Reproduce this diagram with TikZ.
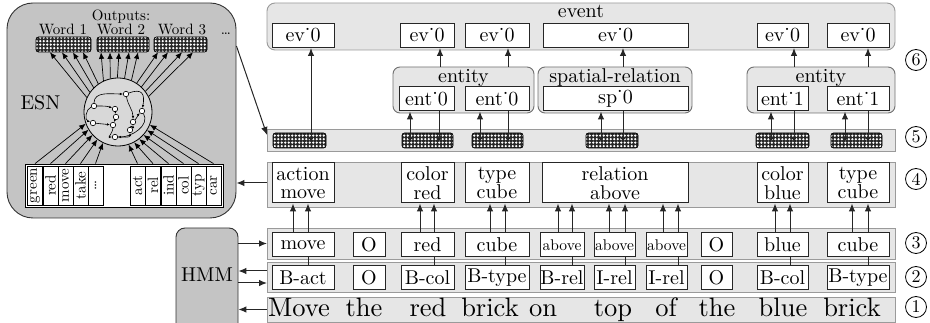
\documentclass[tikz,border=0pt]{standalone}
\usepackage{fontspec}
\setmainfont{lmroman10-regular.otf}
\usetikzlibrary{arrows.meta,patterns}
\pgfdeclarepatternformonly{wdots}{\pgfqpoint{-1pt}{-1pt}}{\pgfqpoint{4.6pt}{4.6pt}}{\pgfqpoint{3.5pt}{3.5pt}}{%
  \pgfpathcircle{\pgfqpoint{1.75pt}{1.75pt}}{1.25pt}\pgfusepath{fill}}
\definecolor{bargray}{HTML}{E6E6E6}
\definecolor{bordgray}{HTML}{9A9A9A}
\definecolor{grpgray}{HTML}{707070}
\definecolor{esngray}{HTML}{C4C4C4}
\definecolor{resgray}{HTML}{D8D8D8}
\newcommand\fsz[1]{\fontsize{#1}{#1}\selectfont}
\begin{document}
\begin{tikzpicture}[x=1pt,y=-1pt,
  bar/.style={draw=bordgray,fill=bargray,line width=0.9pt,inner sep=0pt,outer sep=0pt},
  rbar/.style={bar,rounded corners=8pt},
  grp/.style={draw=grpgray,fill=bargray,line width=0.9pt,rounded corners=7pt,inner sep=0pt},
  wbox/.style={draw=black!85,fill=white,line width=1pt,inner sep=0pt,minimum height=24pt,font=\fsz{20}},
  tbox/.style={wbox,minimum height=40pt,align=center,font=\fontsize{20}{18.5}\selectfont},
  resv/.style={draw=black,line width=0.7pt,rounded corners=2.5pt,preaction={fill=black!85},pattern=wdots,pattern color=white,minimum height=15pt,inner sep=0pt},
  arr/.style={-{Latex[length=8pt,width=6.5pt]},line width=1pt,draw=black!85},
  darr/.style={{Circle[length=4pt]}-{Latex[length=8pt,width=6.5pt]},line width=1pt,draw=black!85},
  dln/.style={{Circle[length=4pt]}-,line width=1pt,draw=black!85},
  ln/.style={line width=1pt,draw=black!85},
  earr/.style={-{Latex[length=6.5pt,width=5.5pt]},line width=0.7pt,draw=black},
  narr/.style={-{Latex[length=3pt,width=2.5pt]},line width=0.6pt,draw=black},
  nn/.style={circle,draw=black,fill=white,line width=0.6pt,inner sep=0pt,minimum size=5.5pt},
  cell/.style={draw=black,fill=white,line width=0.7pt,inner sep=0pt,minimum width=39pt,minimum height=15.3pt,rotate=90,font=\fsz{15}},
  num/.style={circle,draw=black,line width=0.8pt,inner sep=0pt,minimum size=21pt,font=\fsz{18}},
  word/.style={anchor=base,font=\fsz{26.5},inner sep=0pt},
  lbl/.style={font=\fsz{20},inner sep=0pt,anchor=base},
  small/.style={font=\fsz{15},inner sep=0pt,anchor=base}
]
\useasboundingbox (0,0) rectangle (930,323);
\clip (0,0) rectangle (930,323);

% ================= ESN panel =================
\node[draw=black!80,fill=esngray,line width=0.9pt,rounded corners=26pt,minimum width=229pt,minimum height=215pt,inner sep=0pt] (esn) at (121.5,110.5) {};
\node[small] (outs) at (121,21) {Outputs:};
\node[small] (w1) at (63,35) {Word 1};
\node[small] (w2) at (121,35) {Word 2};
\node[small] (w3) at (182,35) {Word 3};
\node[small] (wd) at (226,35) {\dots};
\node[lbl] (esnl) at (40.5,110) {ESN};
\node[resv,minimum width=55pt] (o1) at (63.5,44.5) {};
\node[resv,minimum width=52pt] (o2) at (123,44.5) {};
\node[resv,minimum width=53pt] (o3) at (180.5,44.5) {};
\node[circle,draw=black,fill=resgray,line width=0.8pt,minimum size=68pt,inner sep=0pt] (res) at (118,112) {};

% output arrows
\draw[earr] (res.155) -- (o1.south -| 50,0);
\draw[earr] (res.145) -- (o1.south -| 62,0);
\draw[earr] (res.135) -- (o1.south -| 73,0);
\draw[earr] (res.125) -- (o1.south -| 83,0);
\draw[earr] (res.115) -- (o2.south -| 101,0);
\draw[earr] (res.103) -- (o2.south -| 110,0);
\draw[earr] (res.91) -- (o2.south -| 119,0);
\draw[earr] (res.79) -- (o2.south -| 129,0);
\draw[earr] (res.67) -- (o2.south -| 138,0);
\draw[earr] (res.57) -- (o3.south -| 158,0);
\draw[earr] (res.47) -- (o3.south -| 168,0);
\draw[earr] (res.37) -- (o3.south -| 182,0);
\draw[earr] (res.27) -- (o3.south -| 193,0);

% inner network
\node[nn] (n1) at (126,94) {};
\node[nn] (n2) at (94,106) {};
\node[nn] (n3) at (115,109) {};
\node[nn] (n4) at (142,111) {};
\node[nn] (n10) at (116,117) {};
\node[nn] (n5) at (93,123) {};
\node[nn] (n6) at (113,125) {};
\node[nn] (n7) at (133,122) {};
\node[nn] (n8) at (130,130) {};
\node[nn] (n9) at (115,137) {};
\draw[narr] (n2) to[out=90,in=180] (n1);
\draw[narr] (n1) to[out=20,in=80,looseness=1.8] (n4);
\draw[narr] (n2) to[out=0,in=160] (n3);
\draw[narr] (n2) to[out=200,in=160] (n5);
\draw[narr] (n5) -- (n6);
\draw[narr] (n3) -- (n10);
\draw[narr] (n10) -- (n6);
\draw[narr] (n6) to[out=-90,in=180] (n9);
\draw[narr] (n9) to[out=0,in=-90] (n8);
\draw[narr] (n8) to[out=90,in=-90] (n7);
\draw[narr] (n7) to[out=45,in=-135] (n4);
\draw[narr] (n4) to[out=-60,in=0] (n9);
\draw[narr] (n1) to[out=-80,in=90] (n7);

% input vector
\node[draw=black,fill=white,line width=0.8pt,minimum width=198pt,minimum height=43pt,inner sep=0pt] (inp) at (124,185.5) {};
\node[cell] (cg) at (35,185.5) {green};
\node[cell] (cr) at (50.5,185.5) {red};
\node[cell] (cm) at (65.5,185.5) {move};
\node[cell] (ct) at (80.5,185.5) {take};
\node[cell] (cd) at (95.5,185.5) {\dots};
\node[cell] (ca) at (137.5,185.5) {act};
\node[cell] (crl) at (153,185.5) {rel};
\node[cell] (ci) at (168.5,185.5) {ind};
\node[cell] (cc) at (183.5,185.5) {col};
\node[cell] (cy) at (198.5,185.5) {typ};
\node[cell] (ccar) at (213.5,185.5) {car};
\draw[earr] (cg.center |- inp.north) -- (res.200);
\draw[earr] (cr.center |- inp.north) -- (res.211);
\draw[earr] (cm.center |- inp.north) -- (res.222);
\draw[earr] (ct.center |- inp.north) -- (res.233);
\draw[earr] (cd.center |- inp.north) -- (res.244);
\draw[earr] (ca.center |- inp.north) -- (res.288);
\draw[earr] (crl.center |- inp.north) -- (res.298);
\draw[earr] (ci.center |- inp.north) -- (res.308);
\draw[earr] (cc.center |- inp.north) -- (res.318);
\draw[earr] (cy.center |- inp.north) -- (res.328);
\draw[earr] (ccar.center |- inp.north) -- (res.338);

% ================= HMM =================
\node[draw=black!80,fill=esngray,line width=0.9pt,rounded corners=9pt,minimum width=62pt,minimum height=112pt,inner sep=0pt] (hmm) at (207,284) {};
\node[lbl] (hmml) at (207,282) {HMM};

% ================= layers =================
\node[rbar,minimum width=628pt,minimum height=47pt] (L6) at (581,26.5) {};
\node[lbl] (evl) at (581,18) {event};
\node[bar,minimum width=628pt,minimum height=22pt] (L5) at (581,140) {};
\node[bar,minimum width=628pt,minimum height=45pt] (L4) at (581,184.5) {};
\node[bar,minimum width=628pt,minimum height=31pt] (L3) at (581,243.5) {};
\node[bar,minimum width=628pt,minimum height=30pt] (L2) at (581,277) {};
\node[bar,minimum width=628pt,minimum height=25pt] (L1) at (581,309.5) {};

% layer 6 groups
\node[grp,minimum width=141pt,minimum height=46pt] (gA) at (463.5,90) {};
\node[lbl] (gAl) at (463.5,83) {entity};
\node[grp,minimum width=154pt,minimum height=46pt] (gS) at (615,90) {};
\node[lbl] (gSl) at (615,83) {spatial-relation};
\node[grp,minimum width=148pt,minimum height=46pt] (gB) at (821,90) {};
\node[lbl] (gBl) at (821,83) {entity};

\node[wbox,minimum width=55pt] (eA1) at (426.5,99) {ent˙0};
\node[wbox,minimum width=64pt] (eA2) at (497,99) {ent˙0};
\node[wbox,minimum width=145pt] (sp) at (615.5,99) {sp˙0};
\node[wbox,minimum width=51pt] (eB1) at (782.5,99) {ent˙1};
\node[wbox,minimum width=62pt] (eB2) at (858,99) {ent˙1};

\node[wbox,minimum width=62pt] (ev1) at (303,35.5) {ev˙0};
\node[wbox,minimum width=54pt] (ev2) at (427,35.5) {ev˙0};
\node[wbox,minimum width=64pt] (ev3) at (497,35.5) {ev˙0};
\node[wbox,minimum width=145pt] (ev4) at (615.5,35.5) {ev˙0};
\node[wbox,minimum width=51pt] (ev5) at (782.5,35.5) {ev˙0};
\node[wbox,minimum width=62pt] (ev6) at (858,35.5) {ev˙0};

% layer 5 reservoirs
\node[resv,minimum width=53pt] (R1) at (299.5,140.5) {};
\node[resv,minimum width=51pt] (R2) at (427.5,140.5) {};
\node[resv,minimum width=51pt] (R3) at (497.5,140.5) {};
\node[resv,minimum width=52pt] (R4) at (612,140.5) {};
\node[resv,minimum width=53pt] (R5) at (782.5,140.5) {};
\node[resv,minimum width=51pt] (R6) at (856.5,140.5) {};

\draw[darr] (R1.center -| 311,0) -- (ev1.south -| 311,0);
\draw[darr] (R2.center -| 410,0) -- (eA1.south -| 410,0);
\draw[dln] (R2.center -| 439,0) -- (eA1.south -| 439,0);
\draw[darr] (R3.center -| 480,0) -- (eA2.south -| 480,0);
\draw[dln] (R3.center -| 508,0) -- (eA2.south -| 508,0);
\draw[darr] (R4.center -| 601,0) -- (sp.south -| 601,0);
\draw[dln] (R4.center -| 623,0) -- (sp.south -| 623,0);
\draw[darr] (R5.center -| 771,0) -- (eB1.south -| 771,0);
\draw[dln] (R5.center -| 794,0) -- (eB1.south -| 794,0);
\draw[darr] (R6.center -| 845,0) -- (eB2.south -| 845,0);
\draw[dln] (R6.center -| 868,0) -- (eB2.south -| 868,0);

\draw[arr] (gA.north -| 440,0) -- (ev2.south -| 440,0);
\draw[arr] (gA.north -| 508,0) -- (ev3.south -| 508,0);
\draw[arr] (gS.north -| 623,0) -- (ev4.south -| 623,0);
\draw[arr] (gB.north -| 794,0) -- (ev5.south -| 794,0);
\draw[arr] (gB.north -| 868,0) -- (ev6.south -| 868,0);

% layer 4
\node[tbox,minimum width=62pt] (a4) at (303,183) {action\\move};
\node[tbox,minimum width=53pt] (c4) at (427.5,183) {color\\red};
\node[tbox,minimum width=64pt] (t4) at (497,183) {type\\cube};
\node[tbox,minimum width=146pt] (r4) at (615,183) {relation\\above};
\node[tbox,minimum width=51pt] (b4) at (782.5,183) {color\\blue};
\node[tbox,minimum width=62pt] (k4) at (858,183) {type\\cube};

% layer 3
\node[wbox,minimum width=62pt] (m3) at (303,245) {move};
\node[wbox,minimum width=32pt] (o3a) at (369,245) {O};
\node[wbox,minimum width=53pt] (r3) at (427.5,245) {red};
\node[wbox,minimum width=64pt] (q3) at (497,245) {cube};
\node[wbox,minimum width=44pt,font=\fsz{15.5}] (p3a) at (562,245) {above};
\node[wbox,minimum width=41pt,font=\fsz{15.5}] (p3b) at (614.5,245) {above};
\node[wbox,minimum width=41pt,font=\fsz{15.5}] (p3c) at (666.5,245) {above};
\node[wbox,minimum width=31pt] (o3b) at (716.5,245) {O};
\node[wbox,minimum width=51pt] (u3) at (782.5,245) {blue};
\node[wbox,minimum width=62pt] (k3) at (858,245) {cube};

% layer 2
\node[wbox,minimum width=62pt] (m2) at (303,278) {B-act};
\node[wbox,minimum width=32pt] (o2a) at (369,278) {O};
\node[wbox,minimum width=53pt] (r2) at (427.5,278) {B-col};
\node[wbox,minimum width=64pt] (q2) at (497,278) {B-type};
\node[wbox,minimum width=44pt] (p2a) at (562,278) {B-rel};
\node[wbox,minimum width=41pt] (p2b) at (614.5,278) {I-rel};
\node[wbox,minimum width=41pt] (p2c) at (666.5,278) {I-rel};
\node[wbox,minimum width=31pt] (o2b) at (716.5,278) {O};
\node[wbox,minimum width=51pt] (u2) at (782.5,278) {B-col};
\node[wbox,minimum width=62pt] (k2) at (858,278) {B-type};

% layer 2 -> 3 lines
\draw[ln] (m2.north -| 308,0) -- (m3.south -| 308,0);
\draw[ln] (r2.north -| 434,0) -- (r3.south -| 434,0);
\draw[ln] (q2.north -| 505,0) -- (q3.south -| 505,0);
\draw[ln] (p2a.north -| 572,0) -- (p3a.south -| 572,0);
\draw[ln] (p2b.north -| 625,0) -- (p3b.south -| 625,0);
\draw[ln] (p2c.north -| 678,0) -- (p3c.south -| 678,0);
\draw[ln] (u2.north -| 790,0) -- (u3.south -| 790,0);
\draw[ln] (k2.north -| 868,0) -- (k3.south -| 868,0);

% layer 3 -> 4 arrows
\draw[arr] (m3.north -| 293,0) -- (a4.south -| 293,0);
\draw[arr] (m3.north -| 308,0) -- (a4.south -| 308,0);
\draw[arr] (r3.north -| 420,0) -- (c4.south -| 420,0);
\draw[arr] (r3.north -| 434,0) -- (c4.south -| 434,0);
\draw[arr] (q3.north -| 490,0) -- (t4.south -| 490,0);
\draw[arr] (q3.north -| 505,0) -- (t4.south -| 505,0);
\draw[arr] (p3a.north -| 558,0) -- (r4.south -| 558,0);
\draw[arr] (p3a.north -| 572,0) -- (r4.south -| 572,0);
\draw[arr] (p3b.north -| 609,0) -- (r4.south -| 609,0);
\draw[arr] (p3b.north -| 625,0) -- (r4.south -| 625,0);
\draw[arr] (p3c.north -| 663,0) -- (r4.south -| 663,0);
\draw[arr] (p3c.north -| 678,0) -- (r4.south -| 678,0);
\draw[arr] (u3.north -| 775,0) -- (b4.south -| 775,0);
\draw[arr] (u3.north -| 790,0) -- (b4.south -| 790,0);
\draw[arr] (k3.north -| 852,0) -- (k4.south -| 852,0);
\draw[arr] (k3.north -| 868,0) -- (k4.south -| 868,0);

% layer 1 sentence
\node[word] (s1) at (299,317) {Move};
\node[word] (s2) at (364,317) {the};
\node[word] (s3) at (428,317) {red};
\node[word] (s4) at (490,317) {brick};
\node[word] (s5) at (543,317) {on};
\node[word] (s6) at (613,317) {top};
\node[word] (s7) at (666,317) {of};
\node[word] (s8) at (717,317) {the};
\node[word] (s9) at (783,317) {blue};
\node[word] (s10) at (852,317) {brick};

% connections to ESN and HMM
\draw[arr] (esn.east |- 0,46) -- (L5.west |- 0,135);
\draw[arr] (L4.west |- 0,183) -- (esn.east |- 0,183);
\draw[arr] (hmm.east |- L3.west) -- (L3.west);
\draw[arr] (L2.west |- 0,271) -- (hmm.east |- 0,271);
\draw[arr] (hmm.east |- 0,283) -- (L2.west |- 0,283);
\draw[arr] (L1.west) -- (hmm.east |- L1.west);

% layer numbers
\node[num] (k6) at (916,60) {6};
\node[num] (k5) at (916,137) {5};
\node[num] (k4n) at (916,179) {4};
\node[num] (k3n) at (916,243) {3};
\node[num] (k2n) at (916,277) {2};
\node[num] (k1n) at (916,307) {1};
\end{tikzpicture}
\end{document}
